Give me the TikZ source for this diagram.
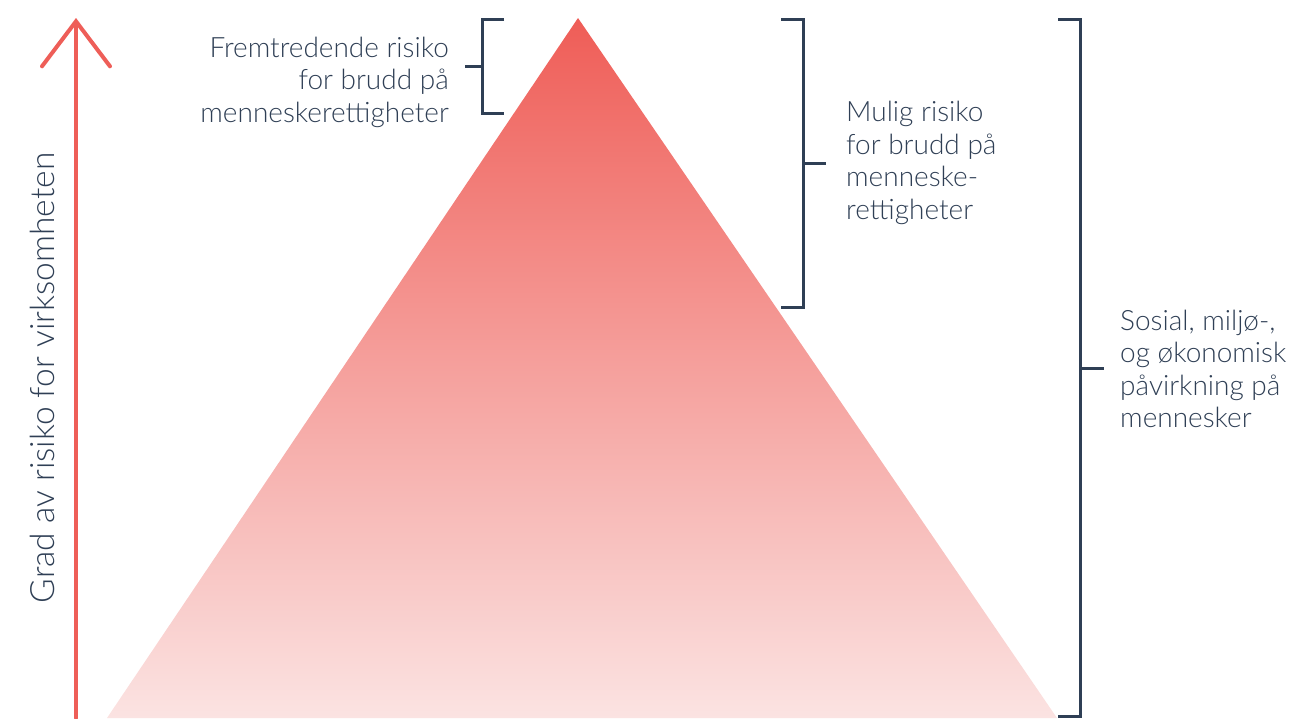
\documentclass[tikz,border=0pt]{standalone}
\usepackage{fontspec}
\setmainfont{Lato}[UprightFont=* Light]
\usetikzlibrary{positioning}
\usetikzlibrary{arrows.meta}
\definecolor{riskred}{HTML}{EE5E58}
\definecolor{tritop}{HTML}{EF5D57}
\definecolor{tribot}{HTML}{FBE3E2}
\definecolor{navy}{HTML}{2F3F55}
\tikzset{
    axisline/.style = {line width=4pt,draw=riskred,line cap=round,-{Straight Barb[length=45pt,width=68pt,line cap=round]}},
    bracketline/.style = {line width=3pt,draw=navy},
    ticklabel/.style = {text=navy,font=\fontsize{28}{32.5}\selectfont,inner sep=0pt},
    axislabel/.style = {text=navy,font=\fontsize{33.5}{38}\selectfont,inner sep=0pt,rotate=90}
}
\begin{document}
\begin{tikzpicture}[x=1pt,y=-1pt]
  \useasboundingbox (0,0) rectangle (1291,718);
  % pyramid
  \shade[top color=tritop, bottom color=tribot] (578,18) -- (107,718) -- (1057,718) -- cycle;
  % axis
  \coordinate (axisBot) at (76,718);
  \coordinate (axisTop) at (76,18);
  \draw[axisline] (axisBot) -- (axisTop);
  \node[axislabel] (axisLab) at (42,378) {Grad av risiko for virksomheten};
  % small bracket
  \coordinate (bA1) at (504,19);
  \coordinate (bA2) at (482,19);
  \coordinate (bA3) at (482,113);
  \coordinate (bA4) at (504,113);
  \coordinate (bAm) at (482,66);
  \coordinate (bAt) at (465,66);
  \draw[bracketline] (bA1) -- (bA2) -- (bA3) -- (bA4);
  \draw[bracketline] (bAm) -- (bAt);
  \node[ticklabel,anchor=east,align=right] (labA) at (449,82) {Fremtredende risiko\\for brudd på\\menneskerettigheter};
  % middle bracket
  \coordinate (bB1) at (781,19);
  \coordinate (bB2) at (803,19);
  \coordinate (bB3) at (803,307);
  \coordinate (bB4) at (781,307);
  \coordinate (bBm) at (803,163);
  \coordinate (bBt) at (826,163);
  \draw[bracketline] (bB1) -- (bB2) -- (bB3) -- (bB4);
  \draw[bracketline] (bBm) -- (bBt);
  \node[ticklabel,anchor=west,align=left] (labB) at (846,163) {Mulig risiko\\for brudd på\\menneske-\\rettigheter};
  % large bracket
  \coordinate (bC1) at (1058,19);
  \coordinate (bC2) at (1080,19);
  \coordinate (bC3) at (1080,716);
  \coordinate (bC4) at (1058,716);
  \coordinate (bCm) at (1080,368);
  \coordinate (bCt) at (1104,368);
  \draw[bracketline] (bC1) -- (bC2) -- (bC3) -- (bC4);
  \draw[bracketline] (bCm) -- (bCt);
  \node[ticklabel,anchor=west,align=left] (labC) at (1120,369) {Sosial, miljø-,\\og økonomisk\\påvirkning på\\mennesker};
\end{tikzpicture}
\end{document}
